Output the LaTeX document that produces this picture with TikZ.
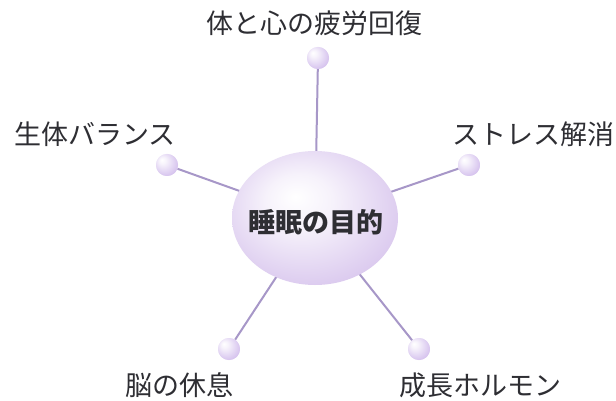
\documentclass[tikz,border=0pt]{standalone}
\usepackage{fontspec}
\setmainfont{Noto Sans CJK JP}
\usetikzlibrary{shapes.geometric}
\definecolor{lav}{HTML}{D6C3EE}
\definecolor{lavdark}{HTML}{D3BEEB}
\definecolor{linec}{HTML}{A797C8}
\definecolor{txt}{HTML}{2E2E33}
\pgfdeclareradialshading{ballshade}{\pgfpoint{-12bp}{12bp}}{%
  color(0bp)=(white); color(8bp)=(white!80!lav); color(30bp)=(lav); color(50bp)=(lav!92!violet)}
\pgfdeclareradialshading{hubshade}{\pgfpoint{-6bp}{8bp}}{%
  color(0bp)=(white); color(10bp)=(white!80!lavdark); color(32bp)=(lavdark!90!white); color(50bp)=(lavdark)}
\tikzset{
  ball/.style={circle, minimum size=22pt, inner sep=0pt, shading=ballshade, draw=none},
  lbl/.style={font=\fontsize{27}{29}\selectfont, text=txt, inner sep=0pt},
  spoke/.style={draw=linec, line width=2pt},
  hub/.style={ellipse, minimum width=166pt, minimum height=134pt, inner sep=0pt,
    shading=hubshade}
}
\begin{document}
\begin{tikzpicture}[x=1pt,y=-1pt]
\useasboundingbox (0,0) rectangle (616,401);
\fill[white] (0,0) rectangle (616,401);
\coordinate (c) at (315,218);
\node[ball] (b1) at (318,58) {};
\node[ball] (b2) at (167,165) {};
\node[ball] (b3) at (469,165) {};
\node[ball] (b4) at (229,349) {};
\node[ball] (b5) at (419,349) {};
\foreach \b in {b1,b2,b3,b4,b5} \draw[spoke] (\b) -- (c);
\node[hub] (h) at (c) {};
\node[font=\bfseries\fontsize{27}{29}\selectfont, text=txt, inner sep=0pt] (ht) at (316,222) {睡眠の目的};
\node[ball] at (b1) {};
\node[ball] at (b2) {};
\node[ball] at (b3) {};
\node[ball] at (b4) {};
\node[ball] at (b5) {};
\node[lbl] (t1) at (314,23) {体と心の疲労回復};
\node[lbl] (t2) at (95,134) {生体バランス};
\node[lbl] (t3) at (533,134) {ストレス解消};
\node[lbl] (t4) at (179,385) {脳の休息};
\node[lbl] (t5) at (480,385) {成長ホルモン};
\end{tikzpicture}
\end{document}
